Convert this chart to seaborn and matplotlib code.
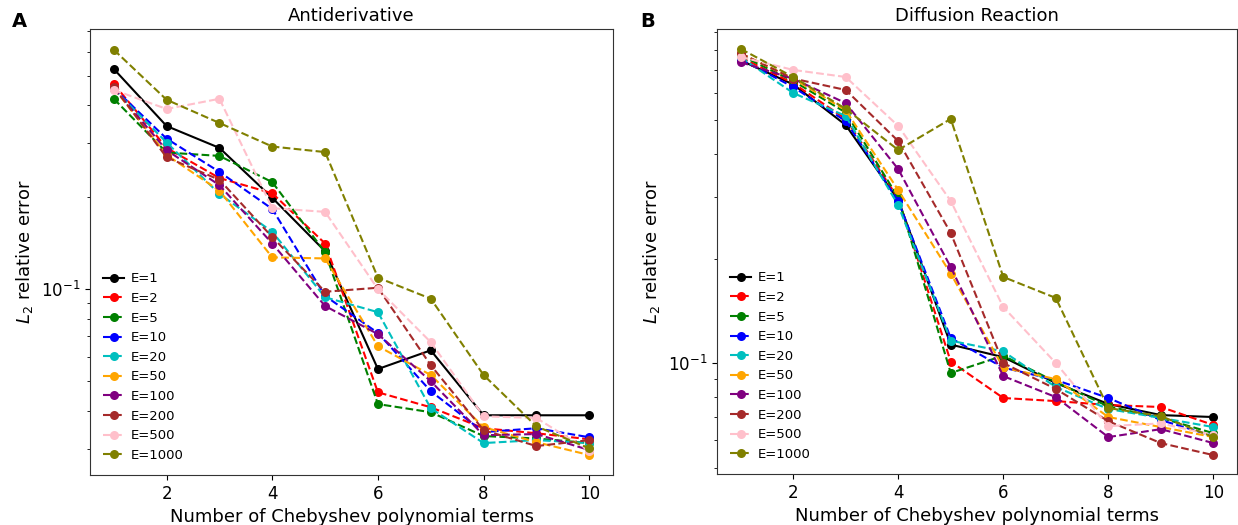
import matplotlib
matplotlib.use("Agg")
import matplotlib.pyplot as plt
import seaborn as sns
import pandas as pd

# Number of Chebyshev polynomial terms
terms = [1, 2, 3, 4, 5, 6, 7, 8, 9, 10]

labels = ["E=1", "E=2", "E=5", "E=10", "E=20", "E=50", "E=100", "E=200", "E=500", "E=1000"]
colors = ["black", "red", "green", "blue", "c", "orange", "purple", "brown", "pink", "olive"]

# Antiderivative: L2 relative error per number of terms
anti_e1 = [0.526, 0.342, 0.290, 0.199, 0.133, 0.0547, 0.063, 0.0386, 0.0386, 0.0386]
anti_e2 = [0.470, 0.290, 0.231, 0.206, 0.141, 0.0459, 0.041, 0.035, 0.0337, 0.0322]
anti_e5 = [0.420, 0.280, 0.273, 0.224, 0.132, 0.042, 0.0395, 0.033, 0.0324, 0.0313]
anti_e10 = [0.455, 0.311, 0.242, 0.183, 0.095, 0.0718, 0.0463, 0.034, 0.035, 0.0327]
anti_e20 = [0.452, 0.302, 0.205, 0.154, 0.094, 0.084, 0.0407, 0.0313, 0.032, 0.0313]
anti_e50 = [0.455, 0.275, 0.210, 0.127, 0.126, 0.065, 0.0523, 0.0353, 0.0315, 0.0286]
anti_e100 = [0.455, 0.285, 0.219, 0.141, 0.088, 0.0712, 0.0499, 0.0332, 0.0335, 0.0297]
anti_e200 = [0.460, 0.270, 0.228, 0.148, 0.098, 0.101, 0.0563, 0.0345, 0.0306, 0.032]
anti_e500 = [0.449, 0.389, 0.420, 0.184, 0.179, 0.100, 0.067, 0.0383, 0.0378, 0.0295]
anti_e1000 = [0.608, 0.417, 0.350, 0.293, 0.281, 0.109, 0.093, 0.0523, 0.0355, 0.0301]

# Diffusion reaction: L2 relative error per number of terms
diff_e1 = [0.745, 0.635, 0.485, 0.295, 0.113, 0.104, 0.0876, 0.0762, 0.0708, 0.0699]
diff_e2 = [0.760, 0.640, 0.505, 0.298, 0.101, 0.0793, 0.0777, 0.0757, 0.0747, 0.0663]
diff_e5 = [0.770, 0.650, 0.527, 0.300, 0.0936, 0.105, 0.0882, 0.075, 0.0695, 0.0628]
diff_e10 = [0.750, 0.624, 0.498, 0.293, 0.118, 0.097, 0.0894, 0.0793, 0.0685, 0.0616]
diff_e20 = [0.760, 0.600, 0.515, 0.285, 0.116, 0.108, 0.0853, 0.0737, 0.0695, 0.0654]
diff_e50 = [0.780, 0.660, 0.535, 0.315, 0.181, 0.097, 0.0899, 0.0699, 0.0654, 0.0612]
diff_e100 = [0.736, 0.659, 0.561, 0.362, 0.189, 0.0917, 0.0798, 0.0612, 0.0645, 0.0588]
diff_e200 = [0.780, 0.660, 0.612, 0.436, 0.237, 0.100, 0.0842, 0.068, 0.0588, 0.0543]
diff_e500 = [0.762, 0.699, 0.667, 0.482, 0.293, 0.145, 0.100, 0.0658, 0.067, 0.062]
diff_e1000 = [0.804, 0.667, 0.540, 0.411, 0.505, 0.177, 0.154, 0.0742, 0.0703, 0.0612]

anti_series = [anti_e1, anti_e2, anti_e5, anti_e10, anti_e20,
               anti_e50, anti_e100, anti_e200, anti_e500, anti_e1000]
diff_series = [diff_e1, diff_e2, diff_e5, diff_e10, diff_e20,
               diff_e50, diff_e100, diff_e200, diff_e500, diff_e1000]

plt.rcParams["font.family"] = ["DejaVu Sans"]

fig = plt.figure(figsize=(12.38, 5.25), dpi=100)
W, H = 1238, 525
ax_a = fig.add_axes([90 / W, 1 - 475 / H, 523 / W, 446 / H])
ax_b = fig.add_axes([717 / W, 1 - 474 / H, 520 / W, 445 / H])


def draw_panel(ax, series, title, ylim):
    for vals, lab, col in zip(series, labels, colors):
        df = pd.DataFrame({"terms": terms, "error": vals})
        sns.lineplot(data=df, x="terms", y="error", ax=ax, color=col,
                     linestyle="-" if lab == "E=1" else "--", linewidth=1.5,
                     marker="o", markersize=6.5, markeredgewidth=0,
                     label=lab)
    ax.set_yscale("log")
    ax.set_ylim(*ylim)
    ax.set_xticks([2, 4, 6, 8, 10])
    ax.set_title(title, fontsize=13)
    ax.set_xlabel("Number of Chebyshev polynomial terms", fontsize=13)
    ax.set_ylabel("$L_2$ relative error", fontsize=13)
    ax.tick_params(axis="both", which="major", labelsize=12)
    for sp in ax.spines.values():
        sp.set_color("#333333")
    ax.legend(loc="lower left", frameon=False, fontsize=9.5,
              handlelength=1.6, handletextpad=0.5, borderaxespad=0.6)


draw_panel(ax_a, anti_series, "Antiderivative", (0.0246, 0.711))
draw_panel(ax_b, diff_series, "Diffusion Reaction", (0.0479, 0.917))

fig.text(12 / W, 1 - 27 / H, "A", fontsize=14, fontweight="bold")
fig.text(640 / W, 1 - 27 / H, "B", fontsize=14, fontweight="bold")

fig.savefig("out.png", dpi=100)
